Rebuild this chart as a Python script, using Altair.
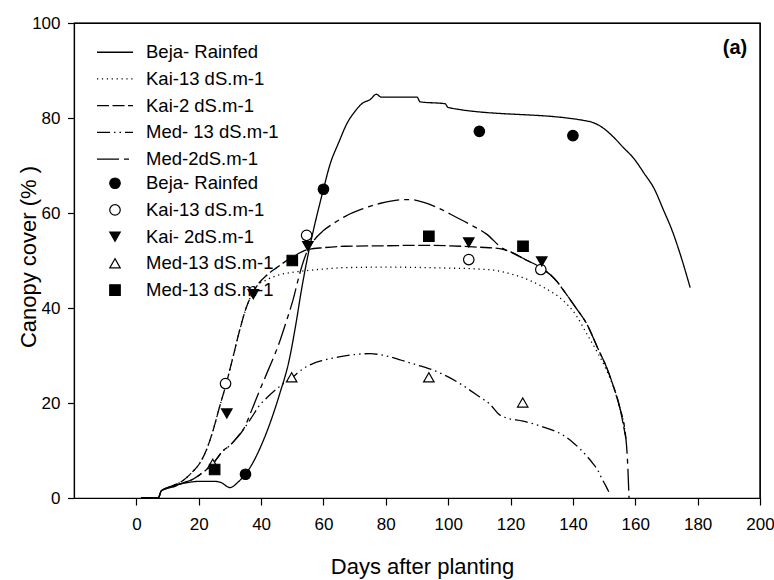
import altair as alt
import pandas as pd

FONT = "Liberation Sans"

# ---------------- simulated curves ----------------
line_names = ["Beja- Rainfed", "Kai-13 dS.m-1", "Kai-2 dS.m-1", "Med- 13 dS.m-1", "Med-2dS.m-1"]
line_dashes = [[1, 0], [1.2, 3.7], [12, 3.5], [13, 4, 1.5, 4, 1.5, 4], [22, 5, 5, 5]]

beja_x = [1.5, 7, 8, 12, 16, 20, 25, 27, 30, 33, 35, 37, 40, 43, 46, 49, 51, 53, 55, 57, 60, 62, 65,
          67.5, 70, 72.5, 75, 77, 78.5, 90, 91, 99, 100, 145, 149, 153, 156, 159.5, 163, 166, 169,
          172, 175, 177.6]
beja_y = [0, 0, 1.5, 2.6, 3.2, 3.5, 3.5, 3.3, 2.2, 3.6, 5.0, 7.0, 11, 16, 22, 29, 36, 44, 51, 57, 65,
          70, 75, 78.8, 81.3, 83.1, 83.9, 85, 84.4, 84.4, 83.4, 83, 82.2, 79.3, 78.2, 76, 73.9, 71.5,
          68.2, 65.2, 60.7, 56, 50.1, 44.3]

kai13_x = [1.5, 7, 8, 11, 15, 18, 20, 22.4, 24.5, 26.6, 28.8, 31, 33, 35.2, 38.4, 42, 46, 50, 55, 60,
           67, 80, 100, 110, 115.4, 120, 126.2, 131, 136.8, 141, 144.4, 148, 150.8, 153, 155, 156.2, 157]
kai13_y = [0, 0, 1.5, 2.4, 3.7, 5.5, 7, 10, 14, 19, 24, 29.7, 35, 40, 44.4, 46, 47, 47.5, 47.9, 48.2,
           48.5, 48.6, 48.4, 48.2, 47.9, 47.2, 45.8, 44.2, 41.6, 38.5, 34.6, 30.5, 26.9, 23.3, 19.1, 16, 12.8]

kai2_x = [1.5, 7, 8, 11, 15, 18, 20, 22.4, 24.5, 26.6, 28.8, 31, 33, 35.2, 38.4, 42, 45, 50, 55, 60,
          67, 80, 90, 100, 110, 116.5, 120, 125, 130, 135, 137, 141, 144.4, 148, 150.8, 153, 155, 157]
kai2_y = [0, 0, 1.5, 2.4, 3.7, 5.5, 7, 10, 14, 19, 24, 29.7, 35, 40, 44.4, 47, 48.5, 50.7, 52.3, 52.7,
          53, 53.1, 53.2, 53.1, 52.8, 52.5, 51.8, 50.1, 48.4, 45.5, 43.7, 40, 36.7, 31.5, 27.5, 23.5, 19.1, 12.5]

med13_x = [1.5, 7, 8, 12, 15, 18, 21, 24.5, 27.9, 29.9, 32, 34.4, 37, 39.5, 42, 46, 50, 53, 56.6, 60,
           65, 70, 75, 78, 85, 90, 94, 100, 104.7, 110, 113.3, 116.5, 118.1, 124, 129.4, 133, 136.9,
           140, 142.2, 144.5, 146.5, 148, 149.2, 150.5, 151.5]
med13_y = [0, 0, 1.5, 2.4, 3.2, 3.9, 5.2, 7.2, 10, 11, 12.5, 14.5, 17, 19.5, 21.2, 23.5, 25.4, 27, 28.3,
           29, 29.7, 30.2, 30.4, 30.2, 29, 28, 27.2, 25.5, 23.7, 21.3, 19.8, 17.5, 17, 16.2, 15.2, 14.4,
           13.2, 11.7, 10.4, 8.8, 7.2, 5.8, 4.2, 2.6, 1.3]

med2_x = [1.5, 7, 8, 12, 15, 18, 21, 24.5, 27.9, 29.9, 32, 34.4, 37, 39.5, 42, 46, 48, 50.2, 52.5, 54.5,
          57, 60, 63, 67, 72.7, 78, 85.5, 88, 91.9, 97, 102.6, 107, 112.2, 117.6, 120, 125, 130, 135,
          137, 141, 144.4, 148, 150.8, 153, 155, 157, 157.5, 158]
med2_y = [0, 0, 1.5, 2.4, 3.2, 3.9, 5.2, 7.2, 10, 11, 12.5, 14.5, 18.5, 22.6, 26.5, 33, 37, 41.6, 47.5,
          51.5, 54.3, 56.3, 57.7, 59.3, 60.9, 62, 62.8, 62.8, 62.3, 61, 59.1, 57.6, 55.6, 52.5, 51.8,
          50.1, 48.4, 45.5, 43.7, 40, 36.7, 31.5, 27.5, 23.5, 19.1, 12.5, 8, 0]

# ---------------- observed points ----------------
pt_keys = ["p1", "p2", "p3", "p4", "p5"]
pt_labels = ["Beja- Rainfed", "Kai-13 dS.m-1", "Kai- 2dS.m-1", "Med-13 dS.m-1", "Med-13 dS.m-1"]
pt_shapes = ["circle", "circle", "triangle-down", "triangle-up", "square"]
pt_fills = ["black", "white", "black", "white", "black"]
pt_sizes = [110, 110, 130, 130, 121]

beja_obs_x = [35, 60, 110, 140]
beja_obs_y = [5, 65, 77.2, 76.3]
kai13_obs_x = [28.6, 54.6, 106.6, 129.7]
kai13_obs_y = [24.1, 55.3, 50.2, 48.1]
kai2_obs_x = [29, 37.5, 55, 106.6, 130]
kai2_obs_y = [17.8, 42.9, 53, 53.8, 49.8]
med13_obs_x = [24.5, 49.8, 93.8, 123.9]
med13_obs_y = [7.2, 25.4, 25.4, 20.1]
med2_obs_x = [25.1, 50, 93.8, 124]
med2_obs_y = [6.0, 50, 55.1, 53]

panel_label = ["(a)"]
panel_x = [192]
panel_y = [93.4]

# axis ranges; the box's top and right edges follow them
x_min, x_max = -20, 200
y_min, y_max = 0, 100
box_x = [x_min, x_max, x_max]
box_y = [y_max, y_max, y_min]

# ---------------- build tables ----------------
line_series = [(beja_x, beja_y), (kai13_x, kai13_y), (kai2_x, kai2_y), (med13_x, med13_y), (med2_x, med2_y)]
rows = []
for name, (xs, ys) in zip(line_names, line_series):
    for i, (a, b) in enumerate(zip(xs, ys)):
        rows.append({"series": name, "x": a, "y": b, "i": i})
lines_df = pd.DataFrame(rows)

obs = [(beja_obs_x, beja_obs_y), (kai13_obs_x, kai13_obs_y), (kai2_obs_x, kai2_obs_y),
       (med13_obs_x, med13_obs_y), (med2_obs_x, med2_obs_y)]
prow = []
for k, (xs, ys) in zip(pt_keys, obs):
    for a, b in zip(xs, ys):
        prow.append({"key": k, "x": a, "y": b})
pts_df = pd.DataFrame(prow)

lab_df = pd.DataFrame({"t": panel_label, "x": panel_x, "y": panel_y})
box_df = pd.DataFrame({"x": box_x, "y": box_y, "i": list(range(len(box_x)))})

label_expr = " : ".join(f"datum.label == '{k}' ? '{l}'" for k, l in zip(pt_keys, pt_labels)) + " : datum.label"

x_scale = alt.Scale(domain=[x_min, x_max], nice=False, zero=False)
y_scale = alt.Scale(domain=[y_min, y_max], nice=False)

x_enc = alt.X("x:Q", scale=x_scale,
              axis=alt.Axis(values=list(range(0, 201, 20)), title="Days after planting",
                            tickSize=7, labelPadding=11, labelFontSize=17, titleFontSize=22,
                            titleFontWeight="normal",
                            titleX=348, titleY=75, titleBaseline="alphabetic", labelFlush=False))
y_enc = alt.Y("y:Q", scale=y_scale,
              axis=alt.Axis(values=list(range(0, 101, 20)), title="Canopy cover (% )",
                            tickSize=6.5, labelPadding=7.5, labelFontSize=17, titleFontSize=22,
                            titleFontWeight="normal",
                            titleAngle=270, titleX=-39, titleY=233.5, titleBaseline="alphabetic",
                            titleAlign="center"))

lines = alt.Chart(lines_df).mark_line(color="black", strokeWidth=1.3, interpolate="monotone").encode(
    x=x_enc, y=y_enc,
    detail="series:N",
    order="i:Q",
    strokeDash=alt.StrokeDash("series:N", scale=alt.Scale(domain=line_names, range=line_dashes),
                              legend=alt.Legend(orient="none", legendX=22.75, legendY=20, title=None,
                                                symbolType="M-3,0H3", symbolSize=144,
                                                symbolStrokeWidth=1.3, symbolStrokeColor="black",
                                                symbolOffset=9, labelOffset=21.75, labelFontSize=18.5,
                                                labelFont=FONT, rowPadding=7.7, padding=0)),
)

# top and right edges of the plot box
box = alt.Chart(box_df).mark_line(color="black", strokeWidth=1.2, interpolate="linear").encode(
    x="x:Q", y="y:Q", order="i:Q")

leg = alt.Legend(orient="none", legendX=22.75, legendY=151, title=None, labelExpr=label_expr,
                 symbolStrokeColor="black", symbolStrokeWidth=1.2, symbolOffset=9,
                 labelOffset=21.75, labelFontSize=18.5, labelFont=FONT, rowPadding=7.7, padding=0)

points = alt.Chart(pts_df).mark_point(filled=True, stroke="black", strokeWidth=1.2, opacity=1).encode(
    x="x:Q", y="y:Q",
    shape=alt.Shape("key:N", scale=alt.Scale(domain=pt_keys, range=pt_shapes), legend=leg),
    fill=alt.Fill("key:N", scale=alt.Scale(domain=pt_keys, range=pt_fills), legend=leg),
    stroke=alt.Stroke("key:N", scale=alt.Scale(domain=pt_keys, range=["black"] * 5), legend=leg),
    size=alt.Size("key:N", scale=alt.Scale(domain=pt_keys, range=pt_sizes), legend=leg),
)

label = alt.Chart(lab_df).mark_text(font=FONT, fontSize=20, fontWeight="bold", align="center",
                                    baseline="alphabetic", color="black").encode(
    x="x:Q", y="y:Q", text="t:N")

chart = alt.layer(lines, box, points, label).properties(
    width=686, height=475,
    background="white",
    autosize=alt.AutoSizeParams(type="none"),
    padding={"left": 74, "top": 23, "right": 14, "bottom": 82},
).configure_view(stroke="black", strokeWidth=1.2).configure_axis(
    grid=False, labelFont=FONT, titleFont=FONT, domainColor="black", tickColor="black",
    labelColor="black", titleColor="black", titleFontWeight="normal", domainWidth=1.2, tickWidth=1.2
)

chart.save("out.html", embed_options={"renderer": "svg", "actions": False})
